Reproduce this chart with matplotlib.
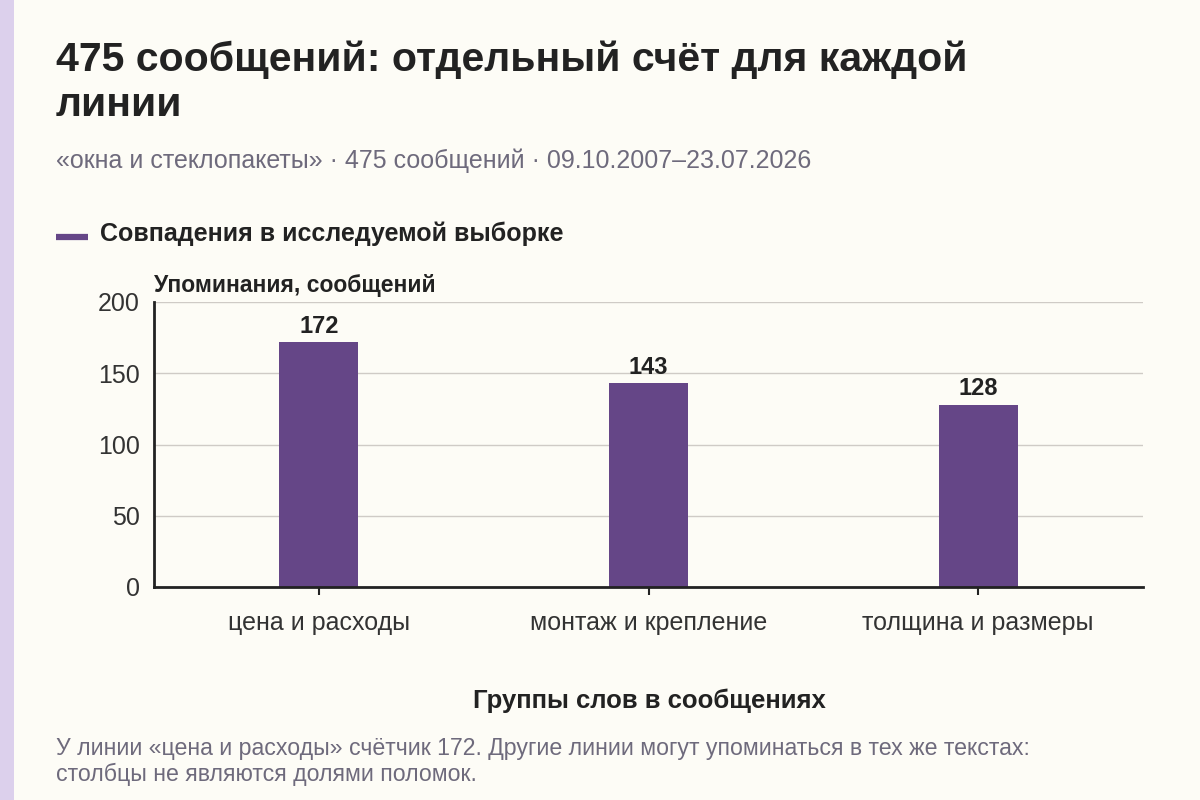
import matplotlib
matplotlib.use("Agg")
import matplotlib.pyplot as plt
from matplotlib.lines import Line2D
from matplotlib.patches import Rectangle

categories = ["цена и расходы", "монтаж и крепление", "толщина и размеры"]
values = [172, 143, 128]
yticks = [0, 50, 100, 150, 200]

title_lines = ["475 сообщений: отдельный счёт для каждой", "линии"]
subtitle = "«окна и стеклопакеты» · 475 сообщений · 09.10.2007–23.07.2026"
legend_label = "Совпадения в исследуемой выборке"
ylabel = "Упоминания, сообщений"
xlabel = "Группы слов в сообщениях"
footnote_lines = ["У линии «цена и расходы» счётчик 172. Другие линии могут упоминаться в тех же текстах:",
                  "столбцы не являются долями поломок."]

BG = "#FDFCF6"
BAR = "#654687"
STRIP = "#DCD0EC"
DARK = "#222222"
GRAYTXT = "#6E6A7C"

plt.rcParams['font.family'] = ['Liberation Sans', 'DejaVu Sans']

W, H = 1200, 800
fig = plt.figure(figsize=(12, 8), dpi=100, facecolor=BG)

fig.patches.append(Rectangle((0, 0), 14 / W, 1, transform=fig.transFigure,
                             facecolor=STRIP, edgecolor="none", zorder=0))

def fx(px):
    return px / W

def fy(py):
    return 1 - py / H

ax = fig.add_axes([fx(154), fy(587), (1143 - 154) / W, (587 - 302) / H])
ax.set_facecolor(BG)

x = list(range(len(categories)))
ax.bar(x, values, width=0.24, color=BAR, zorder=3)
for xi, v in zip(x, values):
    ax.text(xi, v + 3, str(v), ha="center", va="bottom", fontsize=17,
            fontweight="bold", color=DARK, zorder=4)

ax.set_xlim(-0.5, len(categories) - 0.5)
ax.set_ylim(0, 200)
ax.set_yticks(yticks)
ax.set_yticklabels([str(t) for t in yticks], fontsize=18, color="#333333")
ax.set_xticks(x)
ax.set_xticklabels(categories, fontsize=18, color="#333333")
ax.tick_params(axis="y", length=0, pad=10)
ax.tick_params(axis="x", length=6, width=1.5, color=DARK, pad=11)
ax.yaxis.grid(True, color="#CFCBC6", linewidth=1, zorder=0)
ax.set_axisbelow(True)
for s in ["top", "right"]:
    ax.spines[s].set_visible(False)
for s in ["left", "bottom"]:
    ax.spines[s].set_color(DARK)
    ax.spines[s].set_linewidth(2)
    ax.spines[s].set_zorder(5)

# texts
for i, line in enumerate(title_lines):
    fig.text(fx(56), fy(71 + 45 * i), line, fontsize=29.5, fontweight="bold", color=DARK,
             ha="left", va="baseline")
fig.text(fx(56), fy(168), subtitle, fontsize=18, color=GRAYTXT, ha="left", va="baseline")
fig.add_artist(Line2D([fx(56), fx(88)], [fy(237), fy(237)], color=BAR, linewidth=4.5,
                      solid_capstyle="butt", transform=fig.transFigure))
fig.text(fx(100), fy(241), legend_label, fontsize=18, fontweight="bold", color=DARK,
         ha="left", va="baseline")
fig.text(fx(154), fy(292), ylabel, fontsize=16.5, fontweight="bold", color=DARK,
         ha="left", va="baseline")
fig.text(fx(649), fy(708), xlabel, fontsize=18.5, fontweight="bold", color=DARK,
         ha="center", va="baseline")
for i, line in enumerate(footnote_lines):
    fig.text(fx(56), fy(755 + 26 * i), line, fontsize=16.7, color=GRAYTXT, ha="left",
             va="baseline")

fig.savefig("out.png", dpi=100, facecolor=BG)
